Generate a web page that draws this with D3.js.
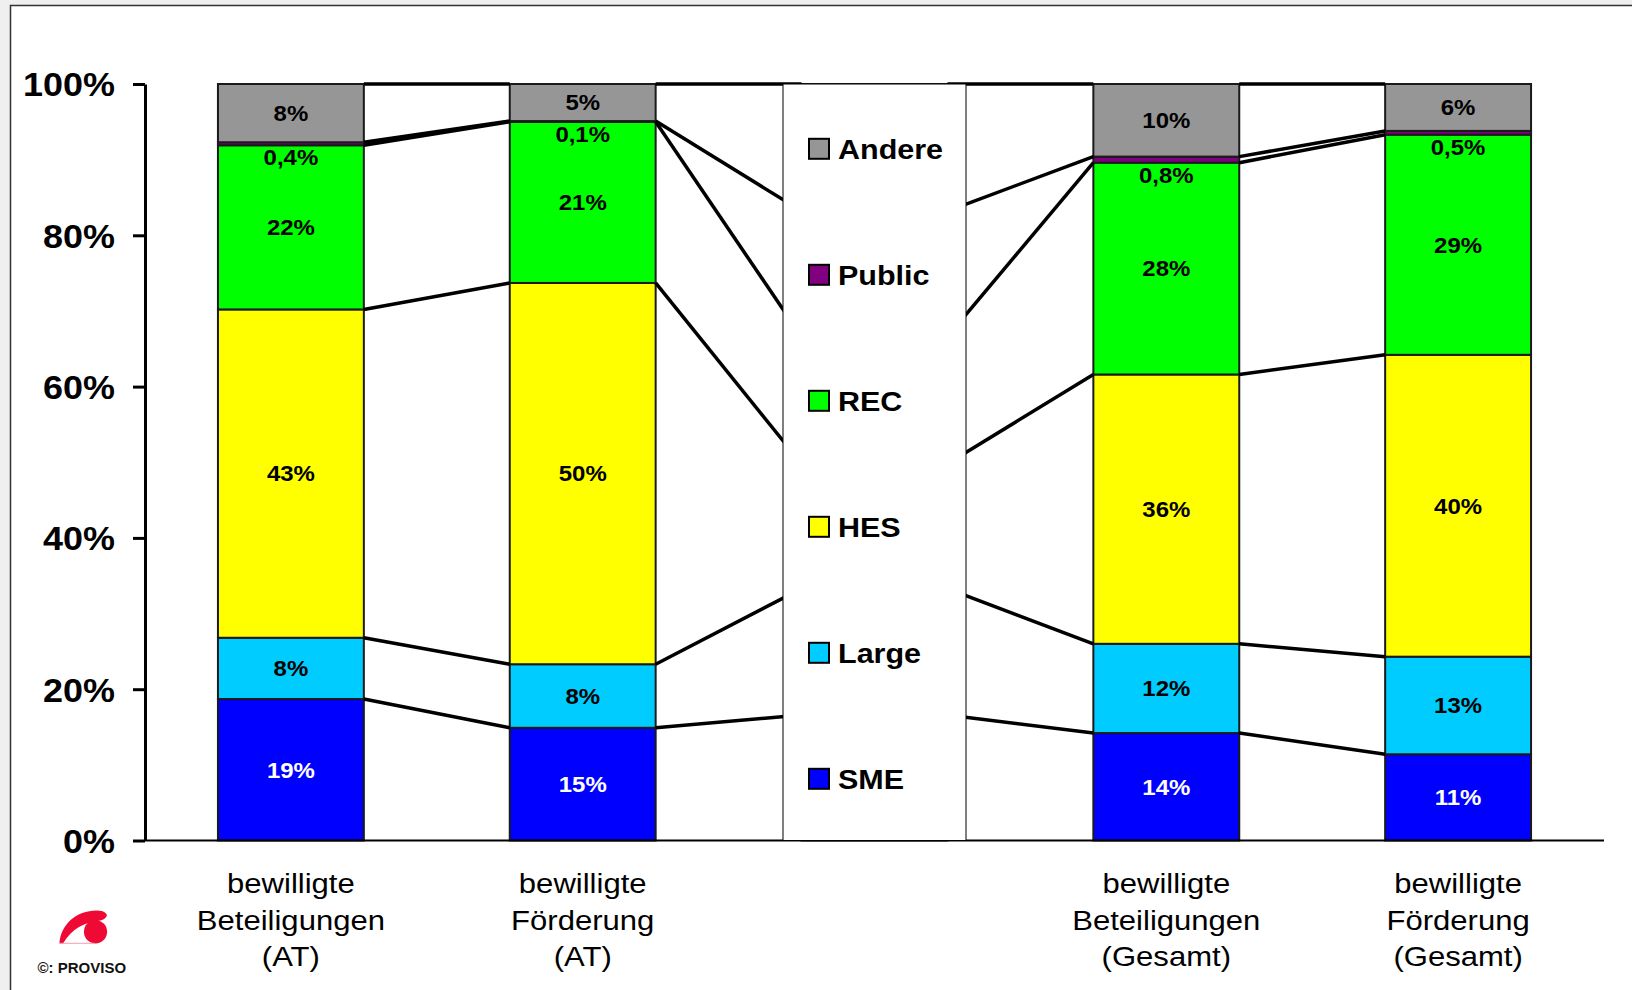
<!DOCTYPE html>
<html>
<head>
<meta charset="utf-8">
<script src="https://cdn.jsdelivr.net/npm/d3@7"></script>
<style>
  html, body { margin: 0; padding: 0; background: #efefef; }
  svg { display: block; }
  text { font-family: "Liberation Sans", Arial, Helvetica, sans-serif; }
</style>
</head>
<body>
<svg id="chart" width="1632" height="990"></svg>
<script>
// Category labels (one entry per column, split into lines); the blank column holds the legend
const categories = [
  ["bewilligte", "Beteiligungen", "(AT)"],
  ["bewilligte", "Förderung", "(AT)"],
  [],
  ["bewilligte", "Beteiligungen", "(Gesamt)"],
  ["bewilligte", "Förderung", "(Gesamt)"]
];
const legendColumn = 2;

// Series, bottom to top
const seriesNames = ["SME", "Large", "HES", "REC", "Public", "Andere"];
const seriesColors = ["#0000ff", "#00ccff", "#ffff00", "#00ff00", "#800080", "#969696"];

// Shares in percent per column
const sme         = [18.7, 14.9, 16.6, 14.2, 11.4];
const large       = [ 8.1,  8.4, 16.7, 11.8, 12.9];
const hes         = [43.4, 50.4, 16.5, 35.6, 39.9];
const rec         = [21.7, 21.3, 16.8, 28.0, 29.1];
const publicShare = [ 0.4,  0.1, 16.6,  0.8,  0.5];
const andere      = [ 7.7,  4.9, 16.8,  9.6,  6.2];

const yTickValues = [0, 0.2, 0.4, 0.6, 0.8, 1];

const seriesValues = [sme, large, hes, rec, publicShare, andere];
const rows = categories.map((c, i) => {
  const r = { idx: i };
  seriesNames.forEach((s, k) => { r[s] = seriesValues[k][i]; });
  return r;
});

const svg = d3.select("#chart");
const STRETCH = 1.09;   // horizontal widening applied to all chart text

// page frame
svg.append("rect")
  .attr("x", 10.5).attr("y", 5.5)
  .attr("width", 1700).attr("height", 1100)
  .attr("fill", "#ffffff").attr("stroke", "#333").attr("stroke-width", 1.5);

const x = d3.scaleBand()
  .domain(d3.range(categories.length))
  .range([145, 1604])
  .paddingInner(0.5)
  .paddingOuter(0.25);
const bw = x.bandwidth();

const y = d3.scaleLinear().domain([0, 1]).range([840.5, 84]);

const stack = d3.stack()
  .keys(seriesNames)
  .offset(d3.stackOffsetExpand);
const layers = stack(rows);

function stretchedText(g, tx, ty, str, size, weight, anchor, fill) {
  return g.append("text")
    .attr("transform", `translate(${tx},${ty}) scale(${STRETCH},1)`)
    .attr("text-anchor", anchor)
    .attr("font-size", size)
    .attr("font-weight", weight)
    .attr("fill", fill || "#000")
    .text(str);
}

// stacked bars
const barG = svg.append("g");
layers.forEach((layer, k) => {
  barG.selectAll(null)
    .data(layer)
    .join("rect")
    .attr("x", (d, j) => x(j))
    .attr("y", d => y(d[1]))
    .attr("width", bw)
    .attr("height", d => y(d[0]) - y(d[1]))
    .attr("fill", seriesColors[k])
    .attr("stroke", "#1a1a1a")
    .attr("stroke-width", 2);
});

// series lines joining the top of each series between neighbouring columns
const lineG = svg.append("g")
  .attr("stroke", "#000").attr("stroke-width", 3.5).attr("fill", "none");
layers.forEach(layer => {
  for (let j = 0; j < layer.length - 1; j++) {
    lineG.append("line")
      .attr("x1", x(j) + bw).attr("y1", y(layer[j][1]))
      .attr("x2", x(j + 1)).attr("y2", y(layer[j + 1][1]));
  }
});

// value labels
const fmtSmall = v => d3.format(".1f")(v).replace(".", ",") + "%";
const fmtLabel = v => (v < 1 ? fmtSmall(v) : Math.round(v) + "%");
const labelG = svg.append("g");
const LABEL_SIZE = 22;
layers.forEach((layer, k) => {
  layer.forEach((d, j) => {
    if (j === legendColumn) return;
    const v = seriesValues[k][j];
    const cx = x(j) + bw / 2;
    const cy = v < 1 ? y(d[0]) + 12 : (y(d[0]) + y(d[1])) / 2;
    stretchedText(labelG, cx, cy + 0.358 * LABEL_SIZE, fmtLabel(v), LABEL_SIZE, "bold",
      "middle", seriesNames[k] === "SME" ? "#ffffff" : "#000000");
  });
});

// y axis
const yAxis = svg.append("g")
  .attr("transform", "translate(145,0)")
  .call(d3.axisLeft(y)
    .tickValues(yTickValues)
    .tickSize(12)
    .tickSizeOuter(0)
    .tickFormat(d3.format(".0%")));
yAxis.select(".domain").attr("stroke", "#000").attr("stroke-width", 3);
yAxis.selectAll(".tick line").attr("stroke", "#000").attr("stroke-width", 3);
yAxis.selectAll(".tick text")
  .attr("x", null).attr("dy", null)
  .attr("transform", `translate(-30,${0.358 * 33}) scale(${STRETCH},1)`)
  .attr("font-size", 33)
  .attr("font-weight", "bold")
  .attr("font-family", "\"Liberation Sans\", Arial, sans-serif")
  .attr("fill", "#000")
  .attr("text-anchor", "end");

// x axis baseline
svg.append("line")
  .attr("x1", 145).attr("x2", 1604)
  .attr("y1", y(0)).attr("y2", y(0))
  .attr("stroke", "#000").attr("stroke-width", 2);

// category labels
const catG = svg.append("g");
const baselines = [893, 930, 966];
categories.forEach((lines, j) => {
  lines.forEach((ln, li) => {
    stretchedText(catG, x(j) + bw / 2, baselines[li], ln, 28.5, "normal", "middle");
  });
});

// legend box over the blank column
const legW = 183;
const legX = x(legendColumn) + bw / 2 - legW / 2;
const legG = svg.append("g");
legG.append("rect")
  .attr("x", legX).attr("y", y(1))
  .attr("width", legW).attr("height", y(0) - y(1))
  .attr("fill", "#fff").attr("stroke", "#000").attr("stroke-width", 1);
const legendOrder = seriesNames.map((s, k) => k).reverse();
legendOrder.forEach((k, i) => {
  const cy = 148.8 + i * 126;
  legG.append("rect")
    .attr("x", legX + 26).attr("y", cy - 10)
    .attr("width", 20).attr("height", 20)
    .attr("fill", seriesColors[k])
    .attr("stroke", "#000").attr("stroke-width", 2);
  stretchedText(legG, legX + 55, cy + 10, seriesNames[k], 28, "bold", "start");
});

// PROVISO mark
const logo = svg.append("g");
logo.append("path")
  .attr("d", "M59.5,943.5 C60,930 70,915 88,911.5 C97,909.8 104,910.5 106.5,914 C108,917 104,920 98,921 C85,922.5 72,928 63,943.5 Z")
  .attr("fill", "#ee0a35");
logo.append("circle")
  .attr("cx", 95.5).attr("cy", 931.8).attr("r", 11.6)
  .attr("fill", "#ee0a35");
logo.append("line")
  .attr("x1", 59.5).attr("x2", 95).attr("y1", 943.3).attr("y2", 943.3)
  .attr("stroke", "#f4a0b0").attr("stroke-width", 1);
logo.append("text")
  .attr("x", 37.5).attr("y", 973)
  .attr("font-size", 15)
  .attr("font-weight", "bold")
  .attr("fill", "#111")
  .text("©: PROVISO");
</script>
</body>
</html>
